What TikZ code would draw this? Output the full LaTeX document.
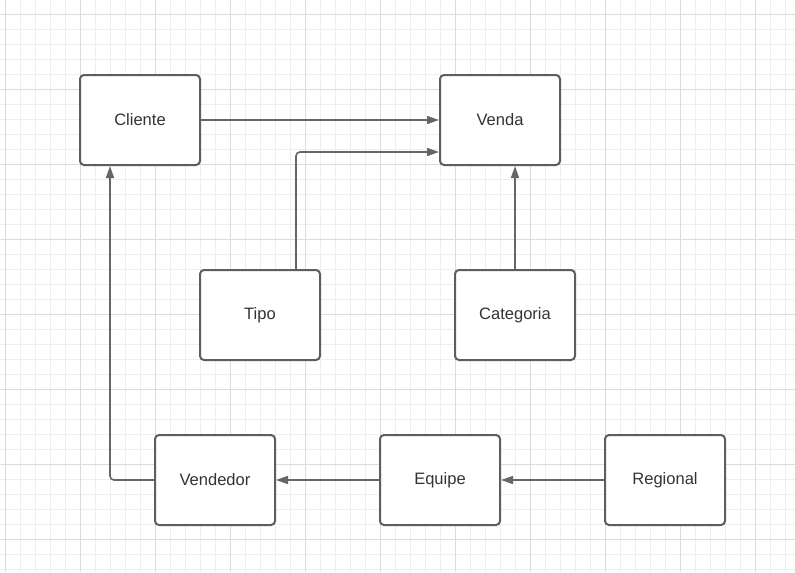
\documentclass[tikz,border=0pt]{standalone}
\usepackage{fontspec}
\setmainfont{Liberation Sans}
\usetikzlibrary{arrows.meta}
\definecolor{borda}{HTML}{5E5E5E}
\definecolor{linha}{HTML}{666666}
\definecolor{texto}{HTML}{333333}
\definecolor{gradefina}{HTML}{EEEEEE}
\definecolor{gradeforte}{HTML}{DCDCDC}
\tikzstyle{tabela} = [rectangle, rounded corners=3pt, minimum width=90pt, minimum height=67.5pt, inner sep=0pt, text centered, draw=borda, line width=1.5pt, fill=white, text=texto, font=\fontsize{12.4pt}{14pt}\selectfont]
\tikzstyle{arrow} = [draw=linha, line width=1.2pt, rounded corners=3pt, -{Triangle[length=9pt,width=6pt]}]

\begin{document}
\begin{tikzpicture}[x=0.75pt, y=-0.75pt]
			\useasboundingbox (0,0) rectangle (795,572);
			\fill[white] (0,0) rectangle (795,572);
			% grade de fundo
			\foreach \x in {5,20,...,795} \draw[gradefina, line width=0.75pt] (\x,0) -- (\x,572);
			\foreach \y in {14,29,...,572} \draw[gradefina, line width=0.75pt] (0,\y) -- (795,\y);
			\foreach \x in {5,80,...,795} \draw[gradeforte, line width=0.75pt] (\x,0) -- (\x,572);
			\foreach \y in {14,89,...,572} \draw[gradeforte, line width=0.75pt] (0,\y) -- (795,\y);
			
			\node[tabela] (cliente) at (140,120) {Cliente};
			\node[tabela] (venda) at (500,120) {Venda};
			\node[tabela] (tipo) at (260,315) {Tipo};
			\node[tabela] (categoria) at (515,315) {Categoria};
			\node[tabela] (vendedor) at (215,480) {Vendedor};
			\node[tabela] (equipe) at (440,480) {Equipe};
			\node[tabela] (regional) at (665,480) {Regional};
			
			\draw [arrow] (cliente) -- (venda);
			\draw [arrow] ([xshift=27pt]tipo.north) |- ([yshift=-24pt]venda.west);
			\draw [arrow] (categoria.north) -- (categoria.north |- venda.south);
			\draw [arrow] (vendedor.west) -| ([xshift=-22.5pt]cliente.south);
			\draw [arrow] (equipe) -- (vendedor);
			\draw [arrow] (regional) -- (equipe);
			
		\end{tikzpicture}
\end{document}
